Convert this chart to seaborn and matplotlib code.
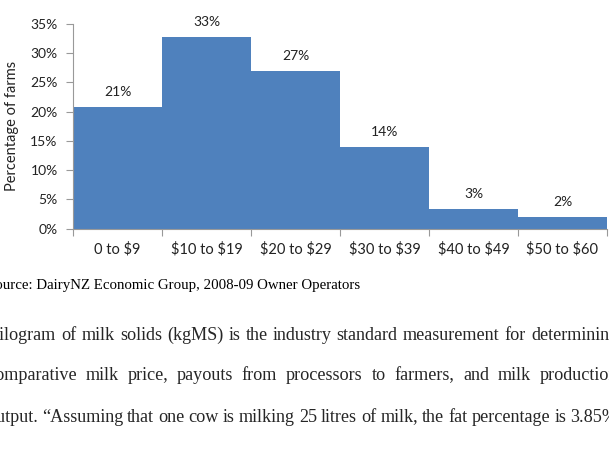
import matplotlib
matplotlib.use("Agg")
import matplotlib.pyplot as plt
import seaborn as sns
import pandas as pd
from matplotlib.ticker import FixedLocator, PercentFormatter

# ---- data ----
categories = ["0 to $9", "$10 to $19", "$20 to $29", "$30 to $39", "$40 to $49", "$50 to $60"]
pct_farms = [20.8, 32.8, 27.0, 14.0, 3.4, 2.0]
bar_labels = ["21%", "33%", "27%", "14%", "3%", "2%"]
yticks = [0, 5, 10, 15, 20, 25, 30, 35]
source_text = "Source: DairyNZ Economic Group, 2008-09 Owner Operators"
para_lines = [
    "Kilogram of milk solids (kgMS) is the industry standard measurement for determining",
    "comparative milk price, payouts from processors to farmers, and milk production",
    "output. \u201cAssuming that one cow is milking 25 litres of milk, the fat percentage is 3.85%",
]

W, H = 609, 454
sns.set_style("white")
plt.rcParams["font.family"] = ["Lato", "DejaVu Sans"]
plt.rcParams["text.parse_math"] = False
fig = plt.figure(figsize=(W / 100, H / 100), dpi=100)

left_px, right_px, top_px, bot_px = 73, 607, 24, 228.5
ax = fig.add_axes([left_px / W, 1 - bot_px / H, (right_px - left_px) / W, (bot_px - top_px) / H])

df = pd.DataFrame({"cat": categories, "val": pct_farms})
sns.barplot(data=df, x="cat", y="val", ax=ax, color="#4F81BD", width=1.0,
            saturation=1, edgecolor="none", linewidth=0)

for i, (v, lab) in enumerate(zip(pct_farms, bar_labels)):
    ax.text(i, v + 1.5, lab, ha="center", va="bottom", fontsize=10, color="#222222")

ax.set_xlim(-0.5, len(categories) - 0.5)
ax.set_ylim(0, 35)
ax.yaxis.set_major_locator(FixedLocator(yticks))
ax.yaxis.set_major_formatter(PercentFormatter(decimals=0))
ax.set_xlabel("")
ax.set_ylabel("Percentage of farms", fontsize=10.5, color="#222222", labelpad=8)

ax.xaxis.set_major_locator(FixedLocator([i - 0.5 for i in range(len(categories) + 1)]))
ax.xaxis.set_minor_locator(FixedLocator(list(range(len(categories)))))
ax.set_xticklabels([""] * (len(categories) + 1))
ax.set_xticklabels(categories, minor=True)
ax.tick_params(axis="x", which="major", length=5, color="#999999", direction="out", bottom=True)
ax.tick_params(axis="x", which="minor", length=0, labelsize=10.5, labelcolor="#222222", pad=10)
ax.tick_params(axis="y", length=5, color="#999999", direction="out", left=True,
               labelsize=10, labelcolor="#222222", pad=6)

for s in ["top", "right"]:
    ax.spines[s].set_visible(False)
for s in ["left", "bottom"]:
    ax.spines[s].set_color("#999999")
    ax.spines[s].set_linewidth(0.8)
ax.set_facecolor("none")

# ---- document text ----
serif = ["Liberation Serif", "DejaVu Serif"]
fig.text(-13 / W, 1 - 285 / H, source_text, family=serif, fontsize=10.7,
         va="center", ha="left", color="black")

renderer = fig.canvas.get_renderer()
text_left, text_right = -13, 618
line_y = [335, 376, 417]
fs = 13.1
for li, (line, y) in enumerate(zip(para_lines, line_y)):
    words = line.split(" ")
    objs = []
    widths = []
    for w in words:
        t = fig.text(0, 1 - y / H, w, family=serif, fontsize=fs, va="center", ha="left")
        objs.append(t)
        widths.append(t.get_window_extent(renderer).width)
    t1 = fig.text(0, 0, "a b", family=serif, fontsize=fs)
    t2 = fig.text(0, 0, "ab", family=serif, fontsize=fs)
    sw = t1.get_window_extent(renderer).width - t2.get_window_extent(renderer).width
    t1.remove()
    t2.remove()
    if li < 2:
        gap = (text_right - text_left - sum(widths)) / (len(words) - 1)
    else:
        gap = sw * 0.9
    x = text_left
    for t, wd in zip(objs, widths):
        t.set_x(x / W)
        x += wd + gap

fig.savefig("out.png", dpi=100)
